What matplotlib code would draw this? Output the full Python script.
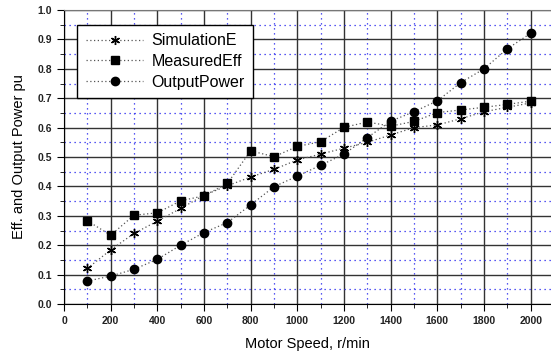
import numpy as np
import matplotlib
matplotlib.use('Agg')
import matplotlib.pyplot as plt
from matplotlib.ticker import MultipleLocator

speed = [100, 200, 300, 400, 500, 600, 700, 800, 900, 1000,
         1100, 1200, 1300, 1400, 1500, 1600, 1700, 1800, 1900, 2000]
sim_eff = [0.121, 0.184, 0.240, 0.282, 0.325, 0.370, 0.402, 0.432, 0.458, 0.490,
           0.510, 0.530, 0.550, 0.575, 0.600, 0.609, 0.630, 0.654, 0.669, 0.684]
meas_eff = [0.283, 0.234, 0.302, 0.310, 0.351, 0.368, 0.410, 0.521, 0.501, 0.536,
            0.552, 0.601, 0.619, 0.605, 0.621, 0.651, 0.660, 0.669, 0.679, 0.690]
out_power = [0.078, 0.095, 0.118, 0.152, 0.200, 0.243, 0.277, 0.337, 0.399, 0.435,
             0.472, 0.510, 0.566, 0.622, 0.654, 0.691, 0.753, 0.800, 0.868, 0.921]

plt.rcParams['font.family'] = ['Liberation Sans', 'DejaVu Sans']

fig = plt.figure(figsize=(5.51, 3.52), dpi=100)
ax = fig.add_axes([64/551, 48/352, (551-64)/551, 294/352])

line_kw = dict(color='#555555', lw=0.9, ls=(0, (1, 2)), mfc='black', mec='black')
ax.plot(speed, sim_eff, marker=(6, 2, 0), ms=6.5, mew=1.0, label='SimulationE', **line_kw)
ax.plot(speed, meas_eff, marker='s', ms=5.5, label='MeasuredEff', **line_kw)
ax.plot(speed, out_power, marker='o', ms=6, label='OutputPower', **line_kw)

ax.set_xlim(0, 2087)
ax.set_ylim(0, 1.0)
ax.xaxis.set_major_locator(MultipleLocator(200))
ax.xaxis.set_minor_locator(MultipleLocator(100))
ax.yaxis.set_major_locator(MultipleLocator(0.1))
ax.yaxis.set_minor_locator(MultipleLocator(0.05))
ax.grid(which='major', color='#333333', lw=1.0, ls='-')
ax.grid(which='minor', color='#2222ee', lw=0.9, ls=(0, (1, 3)))
ax.set_axisbelow(True)
ax.yaxis.set_major_formatter(matplotlib.ticker.FormatStrFormatter('%.1f'))

ax.tick_params(which='both', direction='out', color='black', labelsize=7.5)
ax.tick_params(which='major', length=5)
ax.tick_params(which='minor', length=3)
for lab in ax.get_xticklabels() + ax.get_yticklabels():
    lab.set_fontweight('bold')
    lab.set_color('#222222')

ax.spines['right'].set_visible(False)
ax.spines['top'].set_color('#777777')
ax.spines['left'].set_color('black')
ax.spines['bottom'].set_color('black')

ax.set_xlabel('Motor Speed, r/min', fontsize=10.5, labelpad=8)
ax.set_ylabel('Eff. and Output Power pu', fontsize=10.5, labelpad=8)

leg = ax.legend(loc='upper left', bbox_to_anchor=(13/487, 0.95), borderaxespad=0,
                fontsize=11.5, frameon=True, fancybox=False, edgecolor='black',
                framealpha=1, handlelength=3.6, borderpad=0.55, labelspacing=0.35,
                handletextpad=0.5)
leg.get_frame().set_linewidth(1.0)

fig.savefig('out.png', dpi=100)
